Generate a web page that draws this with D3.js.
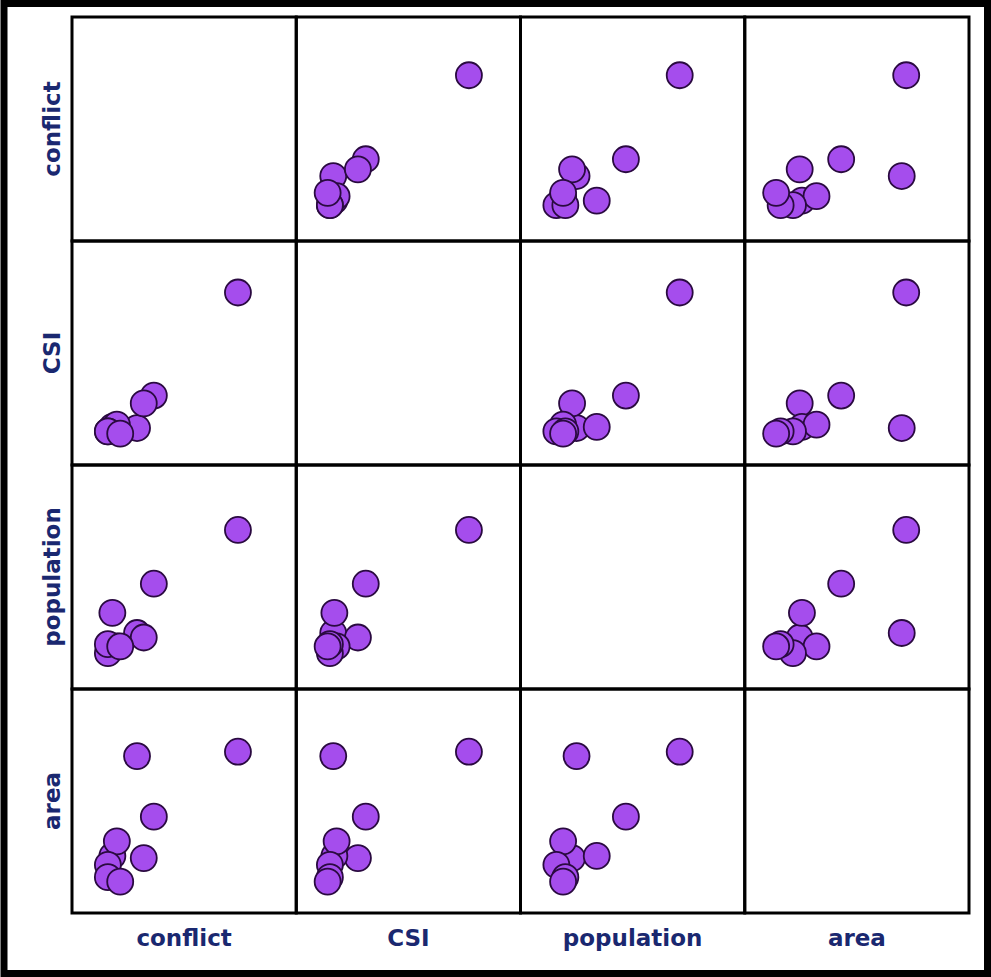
<!DOCTYPE html>
<html>
<head>
<meta charset="utf-8">
<script src="https://cdn.jsdelivr.net/npm/d3@7"></script>
<style>
  body { margin: 0; background: #fff; }
  svg { display: block; }
</style>
</head>
<body>
<svg id="chart"></svg>
<script>
// variables shown in the matrix
var variables = ['conflict', 'CSI', 'population', 'area'];

// one value per country (0-100 index)
var conflict   = [74, 29, 36.5, 32, 18, 20, 16, 16, 21.5];
var CSI        = [77, 16.5, 31, 27.5, 17, 18, 15, 15, 14];
var population = [71, 25, 47, 23, 34, 19, 16, 20, 19];
var area       = [72, 70, 43, 24.5, 25.5, 32, 21.5, 16, 14];

var columns = { conflict: conflict, CSI: CSI, population: population, area: area };

var width = 991, height = 977;
var margins = { top: 17, bottom: 64, left: 72, right: 22 };

var svg = d3.select('#chart').attr('width', width).attr('height', height);

var cellX = d3.scaleBand().domain(variables).range([margins.left, width - margins.right]);
var cellY = d3.scaleBand().domain(variables).range([margins.top, height - margins.bottom]);
var size = cellX.bandwidth();
var sizeY = cellY.bandwidth();

var x = d3.scaleLinear().domain([0, 100]).range([0, size]);
var y = d3.scaleLinear().domain([0, 100]).range([sizeY, 0]);

// outer frame
svg.append('rect')
  .attr('x', 4).attr('y', 3.5)
  .attr('width', width - 7.5).attr('height', height - 7)
  .attr('fill', '#fff')
  .attr('stroke', '#000')
  .attr('stroke-width', 7);

var pairs = [];
variables.forEach(function(row){
  variables.forEach(function(col){
    pairs.push({ row: row, col: col });
  });
});

var cells = svg.selectAll('g.cell')
  .data(pairs)
  .enter()
  .append('g')
  .attr('class', 'cell')
  .attr('transform', function(d){ return 'translate(' + cellX(d.col) + ',' + cellY(d.row) + ')'; });

cells.filter(function(d){ return d.row != d.col; })
  .selectAll('circle')
  .data(function(d){
    return columns[d.col].map(function(v, i){ return { xv: v, yv: columns[d.row][i] }; });
  })
  .enter()
  .append('circle')
  .attr('cx', function(d){ return x(d.xv); })
  .attr('cy', function(d){ return y(d.yv); })
  .attr('r', 13)
  .attr('fill', '#a54ded')
  .attr('stroke', '#2a0a40')
  .attr('stroke-width', 1.8);

cells.append('rect')
  .attr('width', size).attr('height', sizeY)
  .attr('fill', 'none')
  .attr('stroke', '#000')
  .attr('stroke-width', 3);

// column labels
svg.selectAll('text.colLabel')
  .data(variables)
  .enter()
  .append('text')
  .attr('class', 'colLabel')
  .attr('x', function(d){ return cellX(d) + size / 2; })
  .attr('y', height - margins.bottom + 33)
  .attr('text-anchor', 'middle')
  .attr('font-family', 'DejaVu Sans, Verdana, sans-serif')
  .attr('font-weight', 'bold')
  .attr('font-size', 23)
  .attr('fill', '#1a2870')
  .text(function(d){ return d; });

// row labels
svg.selectAll('text.rowLabel')
  .data(variables)
  .enter()
  .append('text')
  .attr('class', 'rowLabel')
  .attr('transform', function(d){ return 'translate(60,' + (cellY(d) + sizeY / 2) + ') rotate(-90)'; })
  .attr('text-anchor', 'middle')
  .attr('font-family', 'DejaVu Sans, Verdana, sans-serif')
  .attr('font-weight', 'bold')
  .attr('font-size', 23)
  .attr('fill', '#1a2870')
  .text(function(d){ return d; });
</script>
</body>
</html>
